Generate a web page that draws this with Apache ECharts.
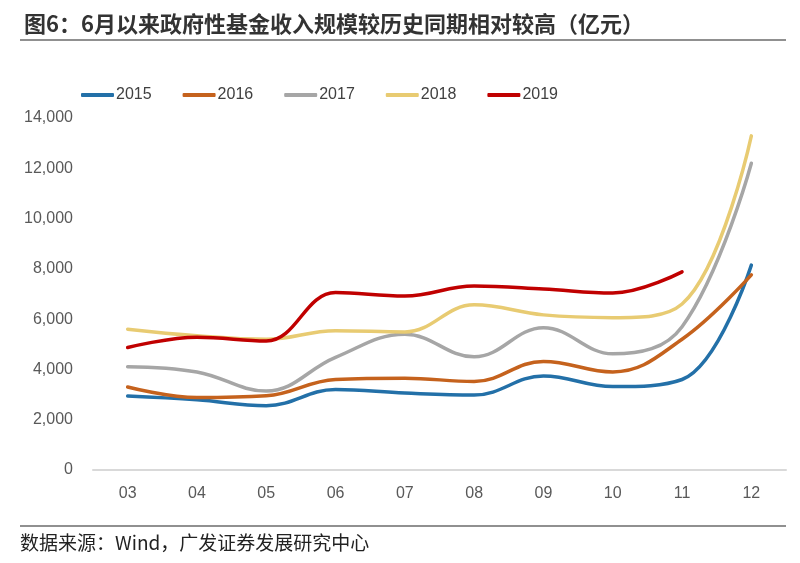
<!DOCTYPE html>
<html>
<head>
<meta charset="utf-8">
<script src="https://cdn.jsdelivr.net/npm/echarts@6/dist/echarts.min.js"></script>
<style>
html,body{margin:0;padding:0;background:#fff;}
#c{width:800px;height:563px;}
</style>
</head>
<body>
<div id="c"></div>
<script>
const categories = ['03','04','05','06','07','08','09','10','11','12'];
const s2015 = [2940, 2790, 2560, 3200, 3060, 2980, 3740, 3320, 3600, 8150];
const s2016 = [3300, 2880, 2950, 3600, 3650, 3520, 4320, 3900, 5200, 7760];
const s2017 = [4110, 3900, 3140, 4480, 5400, 4500, 5660, 4620, 5700, 12200];
const s2018 = [5600, 5340, 5200, 5540, 5490, 6570, 6170, 6060, 6600, 13290];
const s2019 = [4870, 5280, 5130, 7060, 6920, 7320, 7200, 7040, 7880, null];
const seriesNames = ['2015','2016','2017','2018','2019'];
const colors = ['#2370A8','#C5621D','#A6A6A6','#E8CB72','#C00000'];
const yTicks = {min:0, max:14000, interval:2000};

const chart = echarts.init(document.getElementById('c'));
const data = [s2015, s2016, s2017, s2018, s2019];
chart.setOption({
  animation:false,
  backgroundColor:'#fff',
  color: colors,
  title:{
    text:'图6：6月以来政府性基金收入规模较历史同期相对较高（亿元）',
    left:19, top:8,
    textStyle:{fontFamily:'Noto Sans CJK SC', fontSize:22, fontWeight:'bold', color:'#333'}
  },
  graphic:[
    {type:'line', shape:{x1:20,y1:40,x2:786,y2:40}, style:{stroke:'#222', lineWidth:1.2}},
    {type:'line', shape:{x1:20,y1:526,x2:786,y2:526}, style:{stroke:'#222', lineWidth:1.2}},
    {type:'text', left:20, top:533, style:{text:'数据来源：Wind，广发证券发展研究中心', font:'19px "Noto Sans CJK SC"', fill:'#222'}}
  ],
  legend:{
    top:82, left:76, itemGap:31, itemWidth:33, itemHeight:4,
    icon:'roundRect',
    textStyle:{fontFamily:'Liberation Sans', fontSize:16, color:'#404040', padding:[0,0,0,-3]},
    data: seriesNames
  },
  grid:{left:93, right:14, top:118, bottom:93},
  xAxis:{
    type:'category', data:categories, boundaryGap:true,
    axisLine:{lineStyle:{color:'#D9D9D9', width:2}},
    axisTick:{show:false},
    axisLabel:{fontFamily:'Liberation Sans', fontSize:16, color:'#595959', margin:16}
  },
  yAxis:{
    type:'value', min:yTicks.min, max:yTicks.max, interval:yTicks.interval,
    axisLine:{show:false}, axisTick:{show:false}, splitLine:{show:false},
    axisLabel:{fontFamily:'Liberation Sans', fontSize:16, color:'#595959', margin:20,
      formatter:v=>v.toLocaleString('en-US')}
  },
  series: seriesNames.map((n,i)=>({
    name:n, type:'line', data:data[i], smooth:0.4, symbol:'none',
    lineStyle:{width:3.5, color:colors[i], cap:'round'}
  }))
});
</script>
</body>
</html>
